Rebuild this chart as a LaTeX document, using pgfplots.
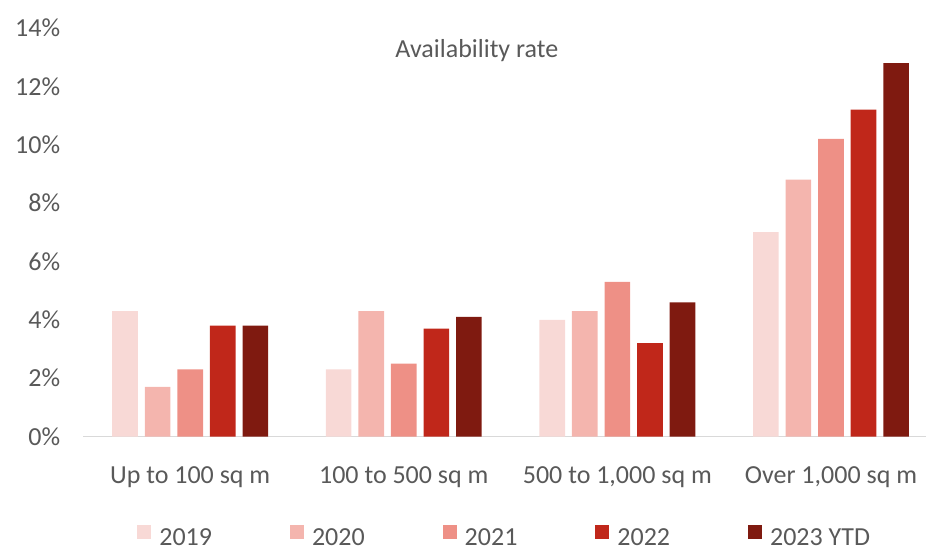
\documentclass[border=0pt]{standalone}
\usepackage{pgfplots}
\pgfplotsset{compat=1.18}
\usepackage{fontspec}
\setmainfont{Carlito}
\definecolor{txt}{RGB}{89,89,89}
\definecolor{cA}{RGB}{248,217,214}
\definecolor{cB}{RGB}{244,181,174}
\definecolor{cC}{RGB}{238,144,134}
\definecolor{cD}{RGB}{192,39,26}
\definecolor{cE}{RGB}{127,26,16}
\definecolor{base}{RGB}{217,217,217}
\begin{document}
\begin{tikzpicture}
\begin{axis}[
  scale only axis,
  width=842.6bp, height=408.5bp,
  xmin=-0.5, xmax=3.445,
  ymin=0, ymax=14,
  enlargelimits=false,
  axis x line*=bottom,
  axis y line*=left,
  y axis line style={draw=none},
  x axis line style={draw=base, line width=1.5bp, -},
  major tick length=0pt,
  xtick={0,1,2,3},
  xticklabels={Up to 100 sq m,100 to 500 sq m,{500 to 1,000 sq m},{Over 1,000 sq m}},
  ytick={0,2,4,6,8,10,12,14},
  yticklabels={0\%,2\%,4\%,6\%,8\%,10\%,12\%,14\%},
  tick label style={font=\fontsize{26bp}{30bp}\selectfont, text=txt},
  xticklabel style={yshift=-27bp},
  yticklabel style={xshift=-19.7bp},
  legend style={draw=none, fill=none, at={(0.5,-0.2800)}, anchor=south,
    legend columns=5, font=\fontsize{26bp}{30bp}\selectfont, text=txt,
    /tikz/every odd column/.append style={column sep=6bp},
    /tikz/every even column/.append style={column sep=76bp}},
  legend image code/.code={\fill[#1,draw=none] (0bp,-1bp) rectangle (14bp,13bp);},
  clip=false,
]
\addplot[ybar, fill=cA, draw=none, bar width=0.12, bar shift=-0.305] coordinates {(0,4.3) (1,2.3) (2,4.0) (3,7.0)};
\addplot[ybar, fill=cB, draw=none, bar width=0.12, bar shift=-0.1525] coordinates {(0,1.7) (1,4.3) (2,4.3) (3,8.8)};
\addplot[ybar, fill=cC, draw=none, bar width=0.12, bar shift=0] coordinates {(0,2.3) (1,2.5) (2,5.3) (3,10.2)};
\addplot[ybar, fill=cD, draw=none, bar width=0.12, bar shift=0.1525] coordinates {(0,3.8) (1,3.7) (2,3.2) (3,11.2)};
\addplot[ybar, fill=cE, draw=none, bar width=0.12, bar shift=0.305] coordinates {(0,3.8) (1,4.1) (2,4.6) (3,12.8)};
\legend{2019,2020,2021,2022,2023 YTD}
\node[anchor=base, text=txt, font=\fontsize{26bp}{30bp}\selectfont] at (rel axis cs:0.467,0.9266) {Availability rate};
\coordinate (sw) at (rel axis cs:0,0);
\end{axis}
\pgfresetboundingbox
\path (sw) ++(-83.4bp,-115.5bp) rectangle ++(926bp,552bp);
\end{tikzpicture}
\end{document}
